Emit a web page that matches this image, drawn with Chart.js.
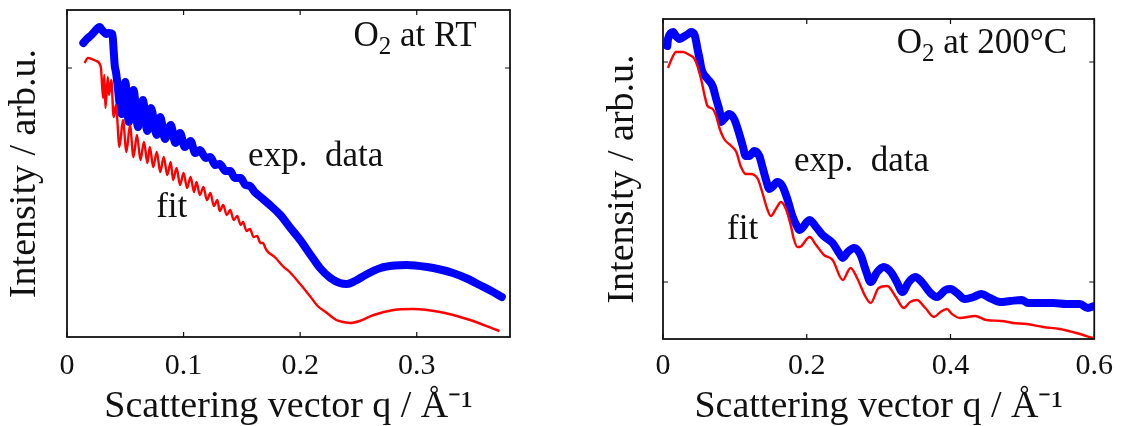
<!DOCTYPE html>
<html>
<head>
<meta charset="utf-8">
<script src="https://cdn.jsdelivr.net/npm/chart.js@4.4.1/dist/chart.umd.min.js"></script>
<style>
  html, body { margin: 0; padding: 0; background: #fff; }
  body { width: 1122px; height: 426px; position: relative; overflow: hidden; }
  .panel { position: absolute; top: 0; height: 426px; }
  #leftBox { left: 0; width: 540px; }
  #rightBox { left: 560px; width: 562px; }
</style>
</head>
<body>
<div class="panel" id="leftBox"><canvas id="leftChart" width="540" height="426"></canvas></div>
<div class="panel" id="rightBox"><canvas id="rightChart" width="562" height="426"></canvas></div>
<script>
// O2 at RT - measured reflectivity and fit (intensity in arb. log units)
const leftExpQ = [0.014,0.017,0.021,0.024,0.028,0.030,0.034,0.036,0.039,0.040,0.041,0.042,0.047,0.050,0.053,0.057,0.061,0.065,0.069,0.072,0.077,0.080,0.084,0.089,0.093,0.097,0.101,0.106,0.110,0.114,0.119,0.123,0.127,0.131,0.136,0.140,0.144,0.149,0.153,0.157,0.161,0.166,0.174,0.183,0.191,0.200,0.209,0.217,0.226,0.234,0.240,0.247,0.256,0.269,0.281,0.291,0.309,0.320,0.331,0.343,0.354,0.364,0.373];
const leftExpI = [2.94,2.98,3.02,3.06,3.10,3.07,3.03,3.04,3.03,2.87,2.71,2.65,2.23,2.55,2.15,2.47,2.10,2.37,2.06,2.29,2.02,2.20,1.98,2.12,1.94,2.04,1.90,1.96,1.84,1.87,1.79,1.80,1.72,1.73,1.66,1.66,1.59,1.59,1.52,1.51,1.45,1.40,1.32,1.22,1.10,0.97,0.82,0.69,0.59,0.54,0.53,0.56,0.62,0.69,0.715,0.72,0.70,0.675,0.64,0.585,0.52,0.46,0.40];
const leftFitQ = [0.015,0.018,0.025,0.029,0.031,0.032,0.033,0.035,0.036,0.038,0.040,0.042,0.045,0.048,0.051,0.054,0.057,0.060,0.063,0.066,0.069,0.071,0.074,0.077,0.080,0.083,0.086,0.089,0.091,0.094,0.097,0.100,0.103,0.106,0.109,0.111,0.114,0.117,0.120,0.123,0.126,0.129,0.131,0.134,0.137,0.140,0.143,0.146,0.149,0.151,0.154,0.157,0.160,0.163,0.166,0.168,0.171,0.179,0.185,0.191,0.200,0.209,0.215,0.223,0.231,0.237,0.243,0.251,0.263,0.280,0.297,0.320,0.343,0.371];
const leftFitI = [2.74,2.79,2.76,2.70,2.39,2.62,2.29,2.60,2.42,2.57,2.20,2.32,1.90,2.17,1.85,2.12,1.80,2.02,1.77,1.95,1.74,1.90,1.70,1.85,1.65,1.80,1.62,1.75,1.57,1.69,1.52,1.64,1.49,1.60,1.45,1.55,1.42,1.50,1.37,1.44,1.31,1.37,1.26,1.32,1.22,1.27,1.17,1.21,1.12,1.15,1.06,1.08,1.00,1.01,0.94,0.94,0.87,0.79,0.71,0.65,0.53,0.40,0.31,0.24,0.17,0.15,0.14,0.16,0.22,0.27,0.28,0.25,0.18,0.06];

// O2 at 200°C
const rightExpQ = [0.006,0.007,0.014,0.018,0.023,0.028,0.035,0.039,0.044,0.046,0.048,0.051,0.053,0.055,0.062,0.069,0.074,0.079,0.081,0.085,0.092,0.099,0.104,0.111,0.115,0.120,0.127,0.134,0.138,0.143,0.148,0.152,0.159,0.166,0.173,0.180,0.187,0.190,0.204,0.213,0.222,0.236,0.245,0.250,0.257,0.266,0.275,0.282,0.289,0.298,0.307,0.317,0.326,0.333,0.342,0.351,0.360,0.372,0.381,0.393,0.400,0.409,0.420,0.432,0.443,0.455,0.469,0.483,0.499,0.508,0.524,0.543,0.561,0.580,0.591,0.600];
const rightExpI = [2.93,3.00,3.07,3.03,3.00,3.02,3.05,3.07,3.04,2.98,2.90,2.80,2.72,2.67,2.60,2.53,2.40,2.27,2.17,2.20,2.25,2.20,2.10,1.93,1.83,1.83,1.88,1.83,1.73,1.60,1.50,1.52,1.57,1.53,1.40,1.23,1.12,1.09,1.19,1.12,1.04,0.96,0.86,0.81,0.87,0.91,0.84,0.69,0.57,0.67,0.72,0.67,0.56,0.47,0.57,0.62,0.57,0.46,0.42,0.49,0.50,0.46,0.40,0.42,0.45,0.41,0.37,0.38,0.39,0.36,0.36,0.36,0.35,0.35,0.31,0.33];
const rightFitQ = [0.007,0.012,0.018,0.028,0.037,0.044,0.048,0.053,0.058,0.062,0.069,0.074,0.079,0.085,0.095,0.102,0.108,0.115,0.122,0.132,0.138,0.145,0.150,0.157,0.164,0.171,0.178,0.182,0.187,0.190,0.204,0.213,0.224,0.236,0.250,0.261,0.270,0.282,0.289,0.300,0.312,0.324,0.335,0.344,0.353,0.365,0.377,0.386,0.395,0.402,0.413,0.434,0.450,0.471,0.487,0.506,0.529,0.552,0.575,0.598];
const rightFitI = [2.71,2.80,2.87,2.87,2.84,2.80,2.73,2.60,2.43,2.33,2.30,2.23,2.10,2.00,1.93,1.87,1.73,1.65,1.65,1.60,1.47,1.30,1.23,1.30,1.37,1.30,1.13,1.00,0.92,0.92,1.02,0.94,0.84,0.79,0.59,0.71,0.61,0.42,0.36,0.51,0.53,0.42,0.31,0.37,0.39,0.31,0.22,0.27,0.30,0.25,0.21,0.23,0.19,0.18,0.16,0.15,0.12,0.10,0.06,0.01];

// axis ticks
const xTicksLeft = [0, 0.1, 0.2, 0.3];
const xTicksRight = [0, 0.2, 0.4, 0.6];
const yTicksLeft = [2.69];
const yTicksRight = [0.57, 2.77];

const SERIF = '"Liberation Serif", "Times New Roman", serif';
const INK = '#111';
const NOTE_SIZE = 35, SUB_SIZE = 25;

function pairs(qs, vals) {
  return qs.map((q, i) => ({ x: q, y: vals[i] }));
}

// box with inward ticks on all four sides + text notes inside the plot
const framePlugin = {
  id: 'frame',
  afterDraw(chart, args, opts) {
    const { ctx, chartArea: a } = chart;
    const xs = chart.scales.x, ys = chart.scales.y;
    ctx.save();
    ctx.strokeStyle = INK;
    ctx.lineWidth = 1.2;
    ctx.beginPath();
    xs.ticks.forEach(t => {
      const px = xs.getPixelForValue(t.value);
      ctx.moveTo(px, a.bottom); ctx.lineTo(px, a.bottom - 5);
      ctx.moveTo(px, a.top); ctx.lineTo(px, a.top + 5);
    });
    ys.ticks.forEach(t => {
      const py = ys.getPixelForValue(t.value);
      ctx.moveTo(a.left, py); ctx.lineTo(a.left + 5, py);
      ctx.moveTo(a.right, py); ctx.lineTo(a.right - 5, py);
    });
    ctx.stroke();
    ctx.lineWidth = 1.8;
    ctx.strokeRect(a.left, a.top, a.right - a.left, a.bottom - a.top);

    ctx.fillStyle = INK;
    ctx.textBaseline = 'alphabetic';
    ctx.textAlign = 'left';
    (opts.notes || []).forEach(n => {
      const parts = n.parts.map(p => {
        ctx.font = (p.sub ? SUB_SIZE : NOTE_SIZE) + 'px ' + SERIF;
        return { t: p.t, sub: p.sub, w: ctx.measureText(p.t).width };
      });
      const total = parts.reduce((s, p) => s + p.w, 0);
      let x = xs.getPixelForValue(n.x) - total / 2;
      const y = ys.getPixelForValue(n.y);
      parts.forEach(p => {
        ctx.font = (p.sub ? SUB_SIZE : NOTE_SIZE) + 'px ' + SERIF;
        ctx.fillText(p.t, x, y + (p.sub ? 8 : 0));
        x += p.w;
      });
    });
    ctx.restore();
  }
};

function makeChart(id, cfg) {
  const ctx = document.getElementById(id).getContext('2d');
  return new Chart(ctx, {
    type: 'line',
    data: {
      datasets: [{
        label: 'fit',
        data: pairs(cfg.fitQ, cfg.fitI),
        borderColor: '#ff0000',
        borderWidth: 2.4,
        pointRadius: 0,
        cubicInterpolationMode: 'monotone',
        fill: false
      }, {
        label: 'exp. data',
        data: pairs(cfg.expQ, cfg.expI),
        borderColor: '#0000ff',
        borderWidth: 8,
        borderJoinStyle: 'round',
        borderCapStyle: 'round',
        pointRadius: 0,
        cubicInterpolationMode: 'monotone',
        fill: false
      }]
    },
    options: {
      responsive: false,
      animation: false,
      layout: { padding: { left: 0, top: cfg.padTop, right: cfg.padRight, bottom: 0 } },
      plugins: {
        legend: { display: false },
        tooltip: { enabled: false },
        frame: { notes: cfg.notes }
      },
      scales: {
        x: {
          type: 'linear',
          min: 0,
          max: cfg.xMax,
          grid: { display: false, drawTicks: false },
          border: { display: false },
          afterBuildTicks: s => { s.ticks = cfg.xTicks.map(v => ({ value: v })); },
          afterFit: s => { s.height = cfg.xAxisH; },
          ticks: {
            color: INK,
            padding: cfg.tickPad,
            maxRotation: 0,
            autoSkip: false,
            font: { family: SERIF, size: 30 },
            callback: v => String(v)
          },
          title: {
            display: true,
            text: 'Scattering vector q / Å⁻¹',
            color: INK,
            font: { family: SERIF, size: 38, lineHeight: 1 },
            padding: { top: 0, bottom: 0 }
          }
        },
        y: {
          type: 'linear',
          min: 0,
          max: cfg.yMax,
          grid: { display: false, drawTicks: false },
          border: { display: false },
          ticks: { display: false },
          afterBuildTicks: s => { s.ticks = cfg.yTicks.map(v => ({ value: v })); },
          afterFit: s => { s.width = cfg.yAxisW; },
          title: {
            display: true,
            text: 'Intensity / arb.u.',
            color: INK,
            font: { family: SERIF, size: 38, lineHeight: 1 },
            padding: { top: cfg.yTitlePad, bottom: 0 }
          }
        }
      }
    },
    plugins: [framePlugin]
  });
}

makeChart('leftChart', {
  expQ: leftExpQ, expI: leftExpI, fitQ: leftFitQ, fitI: leftFitI,
  xTicks: xTicksLeft, yTicks: yTicksLeft,
  xMax: 0.38, yMax: 3.27,
  padTop: 10, padRight: 30, xAxisH: 89, yAxisW: 67, tickPad: 11, yTitlePad: 6,
  notes: [
    { x: 0.2985, y: 2.91, parts: [{ t: 'O' }, { t: '2', sub: true }, { t: ' at RT' }] },
    { x: 0.2133, y: 1.71, parts: [{ t: 'exp.  data' }] },
    { x: 0.0898, y: 1.20, parts: [{ t: 'fit' }] }
  ]
});

makeChart('rightChart', {
  expQ: rightExpQ, expI: rightExpI, fitQ: rightFitQ, fitI: rightFitI,
  xTicks: xTicksRight, yTicks: yTicksRight,
  xMax: 0.6, yMax: 3.20,
  padTop: 19, padRight: 25, xAxisH: 87, yAxisW: 103, tickPad: 9, yTitlePad: 44,
  notes: [
    { x: 0.4436, y: 2.86, parts: [{ t: 'O' }, { t: '2', sub: true }, { t: ' at 200°C' }] },
    { x: 0.2761, y: 1.68, parts: [{ t: 'exp.  data' }] },
    { x: 0.1107, y: 1.00, parts: [{ t: 'fit' }] }
  ]
});
</script>
</body>
</html>
